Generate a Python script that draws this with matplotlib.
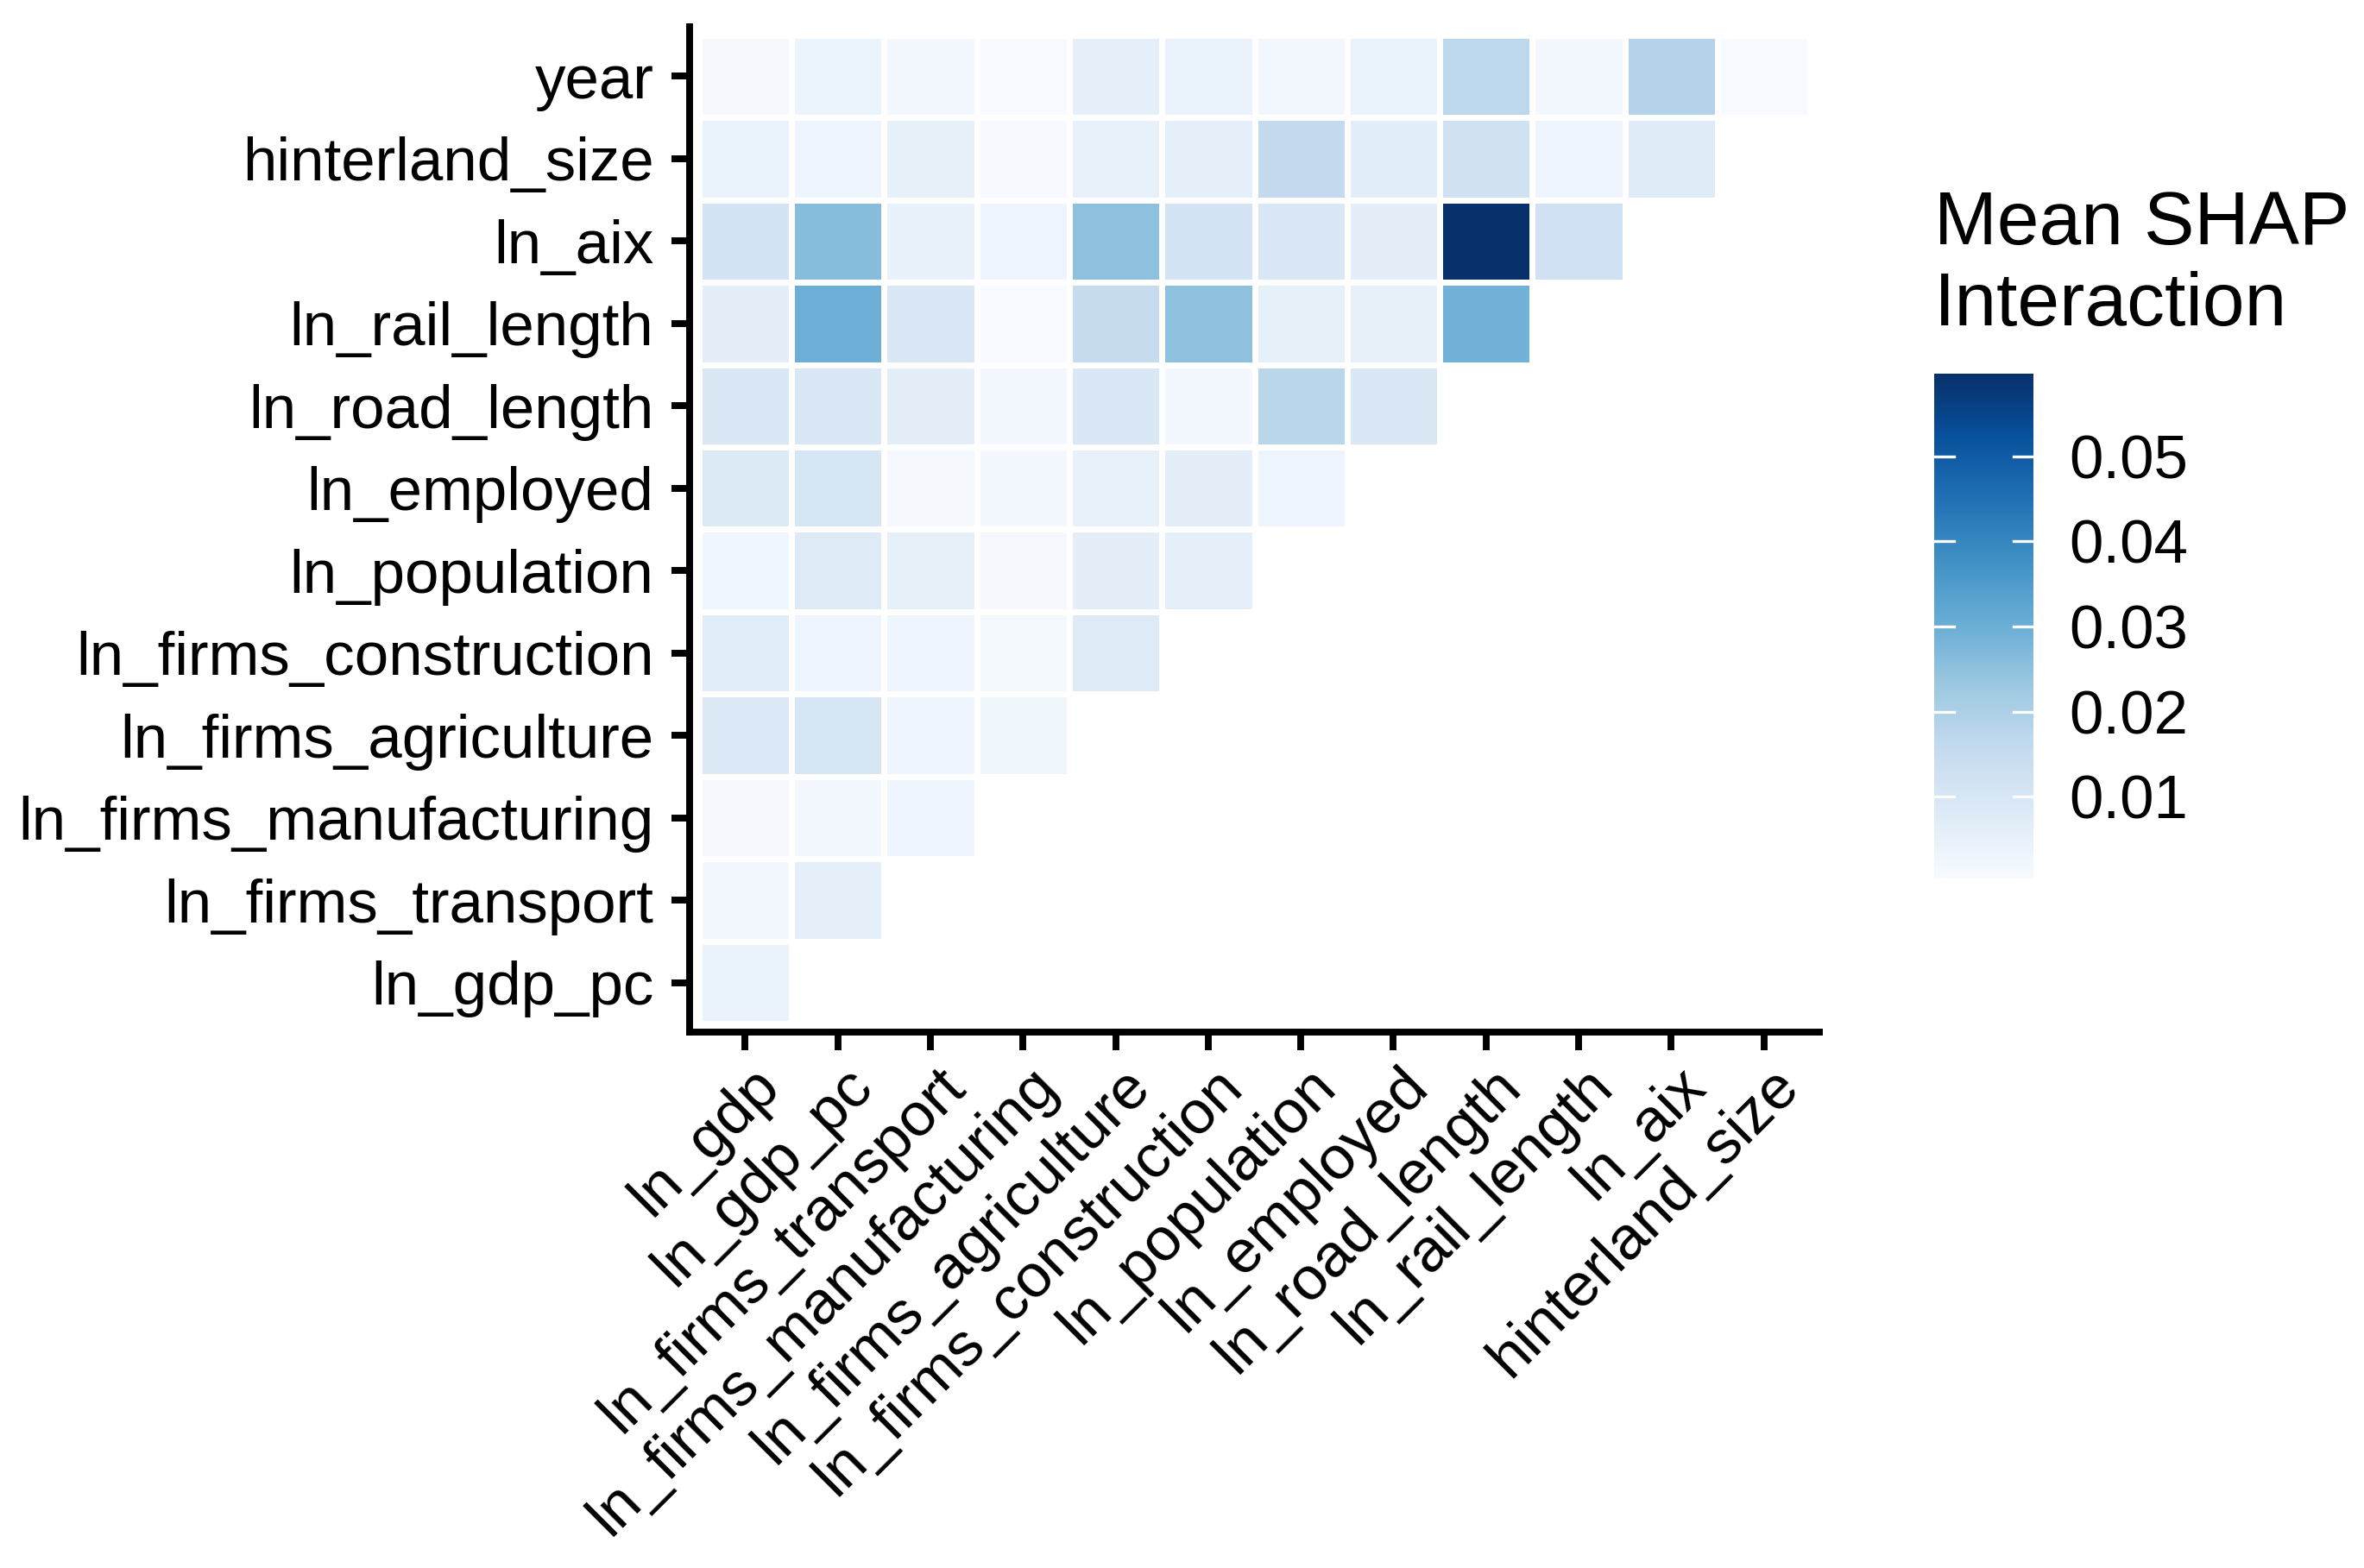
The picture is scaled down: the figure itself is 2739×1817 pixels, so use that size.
import numpy as np
import matplotlib
matplotlib.use("Agg")
import matplotlib.pyplot as plt
from matplotlib.colors import Normalize
from matplotlib.transforms import ScaledTranslation

plt.rcParams['font.family'] = ['Liberation Sans', 'DejaVu Sans']

# column categories (x axis, left to right)
col_labels = ["ln_gdp", "ln_gdp_pc", "ln_firms_transport", "ln_firms_manufacturing",
              "ln_firms_agriculture", "ln_firms_construction", "ln_population",
              "ln_employed", "ln_road_length", "ln_rail_length", "ln_aix", "hinterland_size"]
# row categories (y axis, bottom to top)
row_labels = ["ln_gdp_pc", "ln_firms_transport", "ln_firms_manufacturing",
              "ln_firms_agriculture", "ln_firms_construction", "ln_population",
              "ln_employed", "ln_road_length", "ln_rail_length", "ln_aix",
              "hinterland_size", "year"]

# mean SHAP interaction values, row by row (values for columns from ln_gdp onwards)
v_ln_gdp_pc = [0.0045]
v_ln_firms_transport = [0.0020, 0.0060]
v_ln_firms_manufacturing = [0.0012, 0.0020, 0.0030]
v_ln_firms_agriculture = [0.0088, 0.0100, 0.0032, 0.0028]
v_ln_firms_construction = [0.0070, 0.0030, 0.0032, 0.0015, 0.0080]
v_ln_population = [0.0025, 0.0080, 0.0055, 0.0012, 0.0065, 0.0060]
v_ln_employed = [0.0085, 0.0100, 0.0012, 0.0020, 0.0050, 0.0065, 0.0035]
v_ln_road_length = [0.0090, 0.0095, 0.0065, 0.0018, 0.0090, 0.0017, 0.0175, 0.0090]
v_ln_rail_length = [0.0065, 0.0300, 0.0090, 0.0006, 0.0150, 0.0250, 0.0057, 0.0055, 0.0290]
v_ln_aix = [0.0110, 0.0260, 0.0048, 0.0036, 0.0250, 0.0110, 0.0090, 0.0065, 0.0597, 0.0125]
v_hinterland_size = [0.0042, 0.0030, 0.0055, 0.0008, 0.0050, 0.0060, 0.0155, 0.0070,
                     0.0120, 0.0030, 0.0075]
v_year = [0.0012, 0.0040, 0.0018, 0.0004, 0.0060, 0.0045, 0.0024, 0.0042, 0.0170,
          0.0018, 0.0185, 0.0006]

rows = [v_ln_gdp_pc, v_ln_firms_transport, v_ln_firms_manufacturing, v_ln_firms_agriculture,
        v_ln_firms_construction, v_ln_population, v_ln_employed, v_ln_road_length,
        v_ln_rail_length, v_ln_aix, v_hinterland_size, v_year]

cbar_ticks = [0.01, 0.02, 0.03, 0.04, 0.05]

n = len(col_labels)
mat = np.full((len(row_labels), n), np.nan)
for i, r in enumerate(rows):
    mat[i, :len(r)] = r
data = np.ma.masked_invalid(mat)

W, H = 2739, 1817
dpi = 300
fig = plt.figure(figsize=(W / dpi, H / dpi), dpi=dpi)
ax = fig.add_axes([799 / W, 1 - 1196 / H, (2108 - 799) / W, (1196 - 31) / H])

vmin, vmax = np.nanmin(mat), np.nanmax(mat)
norm = Normalize(vmin=vmin, vmax=vmax)
cmap = plt.get_cmap('Blues')

xe = np.arange(n + 1) + 0.5
ye = np.arange(len(row_labels) + 1) + 0.5
mesh = ax.pcolormesh(xe, ye, data, cmap=cmap, norm=norm, edgecolor='white', linewidth=1.3)

ax.set_xlim(0.4, n + 0.6)
ax.set_ylim(0.4, len(row_labels) + 0.6)
ax.set_xticks(np.arange(1, n + 1))
ax.set_yticks(np.arange(1, len(row_labels) + 1))
ax.set_xticklabels(col_labels, rotation=45, ha='right', va='top', rotation_mode='anchor')
ax.set_yticklabels(row_labels)

for s in ['top', 'right']:
    ax.spines[s].set_visible(False)
for s in ['left', 'bottom']:
    ax.spines[s].set_linewidth(1.9)
    ax.spines[s].set_capstyle('projecting')
ax.tick_params(axis='both', length=5, width=1.9, labelsize=17, color='black', labelcolor='black')
ax.tick_params(axis='y', pad=5)
ax.tick_params(axis='x', pad=4)
shift = ScaledTranslation(1.5 / 72, 2 / 72, fig.dpi_scale_trans)
for lab in ax.get_xticklabels():
    lab.set_transform(lab.get_transform() + shift)

# colorbar
cax = fig.add_axes([2241 / W, 1 - 1018 / H, (2356 - 2241) / W, (1018 - 433) / H])
cb = fig.colorbar(mesh, cax=cax)
cb.outline.set_visible(False)
cb.set_ticks(cbar_ticks)
cb.ax.tick_params(length=0, labelsize=17, pad=10)
for t in cbar_ticks:
    cax.plot([0, 0.2], [t, t], color='white', lw=0.8, transform=cax.get_yaxis_transform())
    cax.plot([0.8, 1.0], [t, t], color='white', lw=0.8, transform=cax.get_yaxis_transform())
fig.text(2241 / W, 1 - 220 / H, "Mean SHAP\nInteraction", fontsize=21, ha='left', va='top',
         linespacing=1.2)

fig.savefig("out.png", dpi=dpi)
